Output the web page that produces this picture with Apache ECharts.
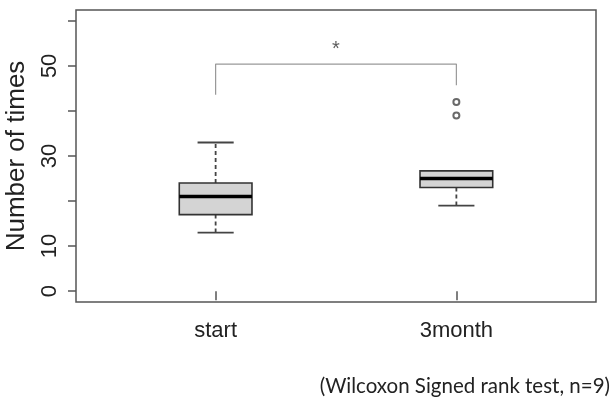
<!DOCTYPE html>
<html>
<head>
<meta charset="utf-8">
<script src="https://cdn.jsdelivr.net/npm/echarts@6/dist/echarts.min.js"></script>
<style>
html,body{margin:0;padding:0;background:#fff;}
#c{width:614px;height:400px;}
</style>
</head>
<body>
<div id="c"></div>
<script>
// ---- data ----
var categories = ['start', '3month'];
// [min, Q1, median, Q3, max] per category
var startStats = [13, 17, 21, 24, 33];
var month3Stats = [19, 23, 25, 26.7, 26.7];
var outliers = [[2, 42], [2, 39]];
var yTicks = [0, 10, 20, 30, 40, 50, 60];
var yLabels = [0, 10, 30, 50];
var bracket = [[1, 43.6], [1, 50.4], [2, 50.4], [2, 45.7]];
var sigMark = [[1.5, 53.6]];
var sigText = '*';
var yName = 'Number of times';
var footnote = '(Wilcoxon Signed rank test, n=9)';

var boxData = [
  [1].concat(startStats),
  [2].concat(month3Stats)
];

var BOX_W = 0.302, CAP_W = 0.15;
var font = '"Liberation Sans", Arial, sans-serif';

var chart = echarts.init(document.getElementById('c'), null, {renderer: 'canvas'});
chart.setOption({
  animation: false,
  backgroundColor: '#fff',
  grid: {
    left: 76, top: 10, width: 520, height: 292,
    outerBoundsMode: 'none', containLabel: false,
    show: true, borderColor: '#555', borderWidth: 1.5, backgroundColor: 'transparent'
  },
  xAxis: {
    type: 'value', min: 0.42, max: 2.58,
    splitLine: {show: false},
    axisLine: {show: false},
    axisTick: {show: true, customValues: [1, 2], length: 9, lineStyle: {color: '#555', width: 1.5}},
    axisLabel: {
      customValues: [1, 2], margin: 18,
      formatter: function (v) { return categories[Math.round(v) - 1]; },
      color: '#222', fontSize: 22, fontFamily: font
    }
  },
  yAxis: {
    type: 'value', min: -2.4, max: 62.4,
    name: yName, nameLocation: 'middle', nameGap: 46,
    nameTextStyle: {color: '#222', fontSize: 26, fontFamily: font},
    splitLine: {show: false},
    axisLine: {show: false},
    axisTick: {show: true, customValues: yTicks, length: 8, lineStyle: {color: '#555', width: 1.5}},
    axisLabel: {
      customValues: yLabels, rotate: 90, margin: 15,
      color: '#222', fontSize: 22, fontFamily: font
    }
  },
  series: [
    {
      type: 'custom',
      data: boxData,
      encode: {x: 0, y: [1, 2, 3, 4, 5]},
      renderItem: function (params, api) {
        var x = api.value(0);
        var half = api.size([BOX_W, 0])[0] / 2;
        var cap = api.size([CAP_W, 0])[0] / 2;
        var pMin = api.coord([x, api.value(1)]);
        var pQ1 = api.coord([x, api.value(2)]);
        var pMed = api.coord([x, api.value(3)]);
        var pQ3 = api.coord([x, api.value(4)]);
        var pMax = api.coord([x, api.value(5)]);
        var cx = pMed[0];
        var dash = {stroke: '#444', lineWidth: 1.8, lineDash: [4, 3]};
        var solid = {stroke: '#444', lineWidth: 1.8};
        return {
          type: 'group',
          children: [
            {type: 'line', shape: {x1: cx, y1: pQ3[1], x2: cx, y2: pMax[1]}, style: dash},
            {type: 'line', shape: {x1: cx, y1: pMin[1], x2: cx, y2: pQ1[1]}, style: dash},
            {type: 'line', shape: {x1: cx - cap, y1: pMax[1], x2: cx + cap, y2: pMax[1]}, style: solid},
            {type: 'line', shape: {x1: cx - cap, y1: pMin[1], x2: cx + cap, y2: pMin[1]}, style: solid},
            {type: 'rect', shape: {x: cx - half, y: pQ3[1], width: half * 2, height: pQ1[1] - pQ3[1]},
              style: {fill: '#d4d4d4', stroke: '#333', lineWidth: 1.6}},
            {type: 'line', shape: {x1: cx - half, y1: pMed[1], x2: cx + half, y2: pMed[1]},
              style: {stroke: '#000', lineWidth: 3.5}}
          ]
        };
      }
    },
    {
      type: 'scatter',
      data: outliers,
      symbol: 'emptyCircle',
      symbolSize: 6,
      itemStyle: {color: '#444', borderColor: '#444', borderWidth: 1.3}
    },
    {
      type: 'line',
      data: bracket,
      showSymbol: false,
      symbol: 'none',
      lineStyle: {color: '#999', width: 1.2}
    },
    {
      type: 'scatter',
      data: sigMark,
      symbolSize: 0,
      label: {show: true, position: 'inside', formatter: sigText, color: '#333', fontSize: 20, fontFamily: font}
    }
  ],
  graphic: [
    {
      type: 'text', right: 4, bottom: 3,
      style: {text: footnote, fill: '#222', fontSize: 20.5, fontFamily: 'Lato, "Open Sans", sans-serif'}
    }
  ]
});
</script>
</body>
</html>
